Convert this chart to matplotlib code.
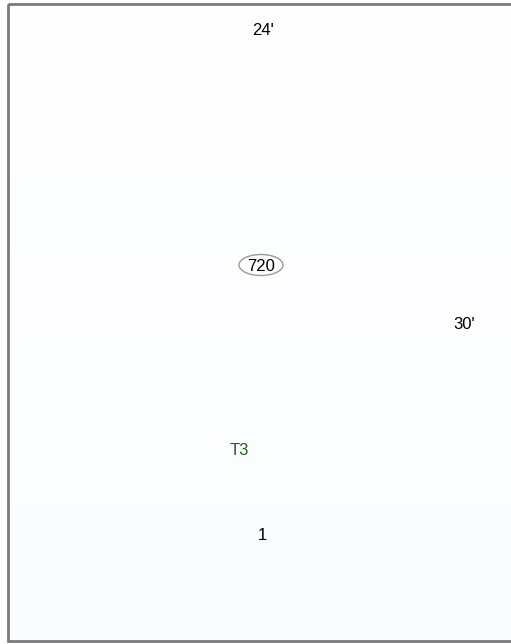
import matplotlib
matplotlib.use("Agg")
import matplotlib.pyplot as plt
import numpy as np
from matplotlib.patches import Rectangle, Ellipse

labels = ["24'", "720", "30'", "T3", "1"]
label_x = [263, 261, 464, 239, 262]
label_y = [30, 266, 324, 450, 536]
label_colors = ["#000000", "#000000", "#000000", "#1f5f1f", "#000000"]
circled = [False, True, False, False, False]

W, H = 511, 644
fig = plt.figure(figsize=(W / 100, H / 100), dpi=100)
ax = fig.add_axes([0, 0, 1, 1])
ax.set_xlim(0, W)
ax.set_ylim(H, 0)
ax.axis("off")

# background gradient inside the frame
grad = np.linspace(0, 1, 256).reshape(-1, 1)
top = np.array([1.0, 1.0, 1.0])
bot = np.array([0.985, 0.99, 1.0])
img = top + grad[..., None] * (bot - top)
ax.imshow(img, extent=[8, W + 5, 641, 4], aspect="auto", zorder=0)

frame = Rectangle((8, 4), W, 637, fill=False, edgecolor="#7a7a7a", linewidth=2.0, zorder=2)
ax.add_patch(frame)
ax.set_xlim(0, W)
ax.set_ylim(H, 0)

for t, x, y, c, circ in zip(labels, label_x, label_y, label_colors, circled):
    ax.text(x, y, t, ha="center", va="center", fontsize=12, color=c,
            family=["Liberation Sans", "DejaVu Sans"], zorder=3)
    if circ:
        ax.add_patch(Ellipse((x, y - 1), 44, 21, fill=False, edgecolor="#9a9a9a", linewidth=1.0, zorder=3))

fig.savefig("out.png", dpi=100)
